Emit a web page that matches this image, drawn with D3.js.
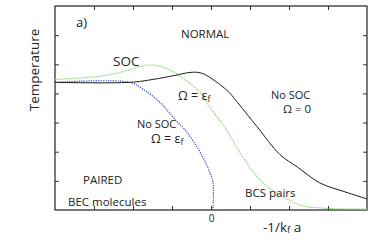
<!DOCTYPE html>
<html>
<head>
<meta charset="utf-8">
<script src="https://cdn.jsdelivr.net/npm/d3@7"></script>
<style>
	body { margin: 0; background: white; }
	text { font-family: "Open Sans", sans-serif; fill: #222; }
</style>
</head>
<body>
<div id="plot"></div>
<script>
const margin = { top: 6, right: 7, bottom: 39, left: 55 },
	width = 374 - margin.left - margin.right,
	height = 249 - margin.top - margin.bottom;

// values (x = -1/kf a, y = temperature, arbitrary units)
const xTicks = [-3, -2, -1, 0, 1, 2, 3];
const yTicks = [1, 2, 3, 4, 5, 6];

const blackX = [-4, -2.08, -1.49, -0.92, -0.54, -0.28, -0.03, 0.44, 0.62, 1.18, 1.77, 2.21, 2.79, 3.44, 4];
const blackY = [4.38, 4.38, 4.48, 4.62, 4.72, 4.71, 4.55, 4.07, 3.79, 2.86, 1.9, 1.48, 0.93, 0.62, 0.38];

const greenX = [-4, -2.85, -2.33, -1.64, -1.31, -0.87, -0.28, -0.03, 0.36, 0.74, 1.26, 1.77, 2.28, 2.79, 4];
const greenY = [4.48, 4.59, 4.72, 4.97, 4.93, 4.66, 4.03, 3.52, 2.83, 1.97, 1.03, 0.52, 0.17, 0.07, 0.03];

const blueX = [-4, -2.08, -1.74, -1.31, -0.87, -0.67, -0.36, -0.15, -0.03, 0.05, 0.05];
const blueY = [4.38, 4.38, 4.14, 3.69, 3.03, 2.76, 2.17, 1.66, 1.28, 0.97, 0];

const svg = d3
	.select("#plot")
	.append("svg")
	.attr("width", width + margin.left + margin.right)
	.attr("height", height + margin.top + margin.bottom)
	.append("g")
	.attr("transform", `translate(${margin.left},${margin.top})`);

const x = d3.scaleLinear().domain([-4, 4]).range([0, width]);
const y = d3.scaleLinear().domain([0, 7]).range([height, 0]);

// ticks pointing inward on all four sides
svg.append("g")
	.attr("transform", `translate(0,${height})`)
	.call(d3.axisBottom(x).tickValues(xTicks).tickSizeInner(-4).tickSizeOuter(0).tickPadding(5)
		.tickFormat((d) => (d === 0 ? "0" : "")))
	.call((g) => g.select(".domain").remove())
	.selectAll("text")
	.style("font-size", "10px")
	.style("font-family", "Open Sans, sans-serif");

svg.append("g")
	.call(d3.axisTop(x).tickValues(xTicks).tickSizeInner(-4).tickSizeOuter(0).tickFormat(""))
	.call((g) => g.select(".domain").remove());

svg.append("g")
	.call(d3.axisLeft(y).tickValues(yTicks).tickSizeInner(-4).tickSizeOuter(0).tickFormat(""))
	.call((g) => g.select(".domain").remove());

svg.append("g")
	.attr("transform", `translate(${width},0)`)
	.call(d3.axisRight(y).tickValues(yTicks).tickSizeInner(-4).tickSizeOuter(0).tickFormat(""))
	.call((g) => g.select(".domain").remove());

svg.selectAll(".tick line").attr("stroke", "#333");

svg.append("rect")
	.attr("width", width)
	.attr("height", height)
	.attr("fill", "none")
	.attr("stroke", "#222")
	.attr("stroke-width", 1.2);

function draw_curve(xs, ys, color, dash, w) {
	const line = d3
		.line()
		.x((d, i) => x(xs[i]))
		.y((d) => y(d))
		.curve(d3.curveCatmullRom.alpha(0.5));
	svg.append("path")
		.datum(ys)
		.attr("d", line)
		.attr("fill", "none")
		.attr("stroke", color)
		.attr("stroke-width", w)
		.attr("stroke-dasharray", dash);
}

draw_curve(greenX, greenY, "#8ed67c", "1.5,0.8", 1.1);
draw_curve(blueX, blueY, "#3346c8", "1.2,1.2", 1.2);
draw_curve(blackX, blackY, "#1a1a1a", null, 1);

// labels
function add_label(px, py, size, txt, anchor) {
	return d3.select("svg")
		.append("text")
		.attr("x", px)
		.attr("y", py)
		.attr("text-anchor", anchor || "start")
		.style("font-size", size + "px")
		.text(txt);
}

add_label(76, 27, 13, "a)");
add_label(181, 38, 11.5, "NORMAL");
add_label(113, 66, 13.5, "SOC");
add_label(271, 99, 11, "No SOC");
add_label(283, 113, 11.5, "Ω = 0");
add_label(137, 128, 11, "No SOC");
add_label(83, 184, 11.5, "PAIRED");
add_label(68, 206, 11.5, "BEC molecules");
add_label(245, 197, 11.5, "BCS pairs");

const omegaA = add_label(178, 100, 12.5, "Ω = ε");
omegaA.append("tspan").attr("dy", 2).style("font-size", "8.5px").text("f");
const omegaB = add_label(151, 143, 12.5, "Ω = ε");
omegaB.append("tspan").attr("dy", 2).style("font-size", "8.5px").text("f");

const xlab = add_label(263, 232, 13.5, "-1/k");
xlab.append("tspan").attr("dy", 1).style("font-size", "9.5px").text("f");
xlab.append("tspan").attr("dy", -1).text(" a");

d3.select("svg")
	.append("text")
	.attr("transform", "translate(39,70) rotate(-90)")
	.attr("text-anchor", "middle")
	.style("font-size", "13.5px")
	.text("Temperature");
</script>
</body>
</html>
